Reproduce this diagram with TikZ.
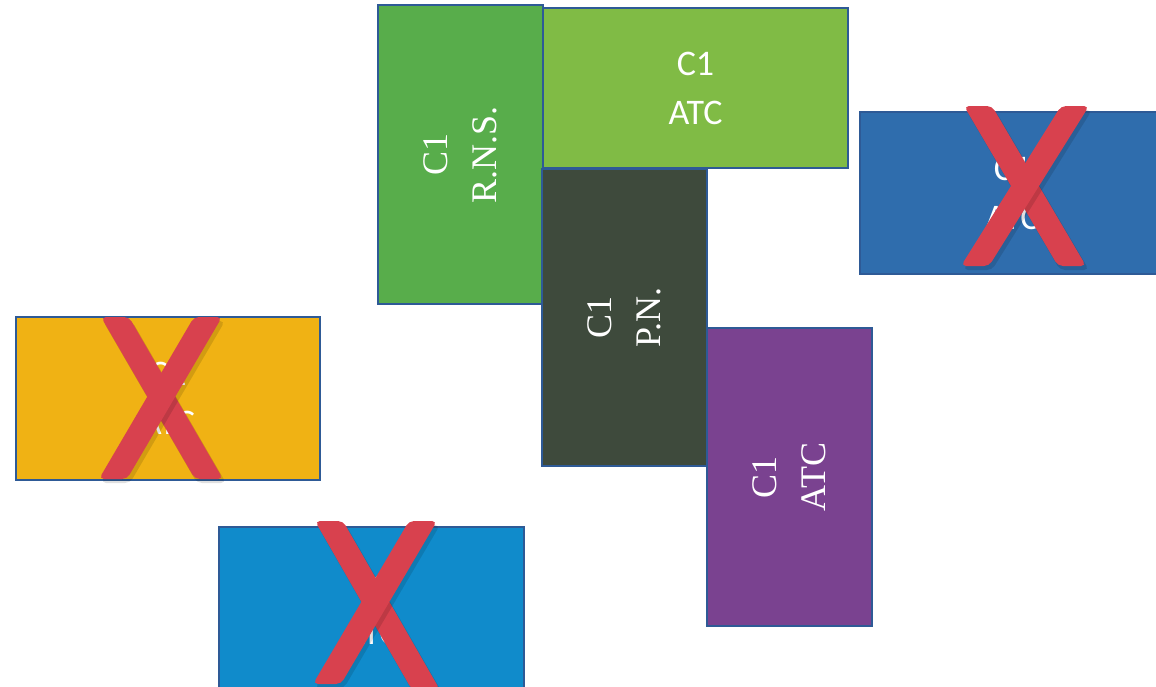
\documentclass[tikz,border=0pt]{standalone}
\usepackage{fontspec}
\setmainfont{Carlito}
\newfontfamily\rotserif{Liberation Serif}
\definecolor{edgeblue}{HTML}{2E5A96}
\definecolor{rnsgreen}{HTML}{58AD4B}
\definecolor{atcgreen}{HTML}{80BB45}
\definecolor{pndark}{HTML}{3E4A3C}
\definecolor{atcpurple}{HTML}{7A4290}
\definecolor{steelblue}{HTML}{2F6DAD}
\definecolor{ambery}{HTML}{F0B214}
\definecolor{skyblue}{HTML}{108BCB}
\definecolor{crossred}{HTML}{D8414E}
\tikzset{
  card/.style={rectangle, draw=edgeblue, line width=1.6pt, inner sep=0pt},
  hlabel/.style={text=white, align=center, inner sep=0pt, font=\fontsize{36}{49}\selectfont},
  vlabel/.style={text=white, align=center, inner sep=0pt, rotate=90, font=\rotserif\fontsize{36}{49}\selectfont},
  crossbar/.style={fill=crossred, rounded corners=5pt},
  crossshade/.style={fill=black, opacity=0.12, rounded corners=5pt}
}
% stroke from top centre (#1,#2) to bottom centre (#3,#4), horizontal half width 14
\newcommand{\crossstroke}[4]{%
  \fill[crossshade] (#1-12,#2+4) -- (#1+17,#2+4) -- (#3+17,#4+4) -- (#3-12,#4+4) -- cycle;
  \fill[crossbar] (#1-14,#2) -- (#1+14,#2) -- (#3+14,#4) -- (#3-14,#4) -- cycle;}
\begin{document}
\begin{tikzpicture}[x=1pt,y=-1pt]
\useasboundingbox (0,0) rectangle (1156,686);
\fill[white] (0,0) rectangle (1156,686);
\begin{scope}
\clip (0,0) rectangle (1156,686);
% main cards
\node[card, fill=rnsgreen, minimum width=165pt, minimum height=299pt] (rns) at (460.5,154.5) {};
\node[card, fill=atcgreen, minimum width=305pt, minimum height=160pt] (atctop) at (695.5,88) {};
\node[card, fill=pndark, minimum width=165pt, minimum height=297pt] (pn) at (624.5,317.5) {};
\node[card, fill=atcpurple, minimum width=165pt, minimum height=298pt] (atcpur) at (789.5,477) {};
\node[vlabel] (rnslbl) at (rns.center) {C1\\R.N.S.};
\node[hlabel] (atctoplbl) at (atctop.center) {C1\\ATC};
\node[vlabel] (pnlbl) at (pn.center) {C1\\P.N.};
\node[vlabel] (atcpurlbl) at (atcpur.center) {C1\\ATC};
% crossed-out cards
\node[card, fill=steelblue, minimum width=305pt, minimum height=162pt] (blueright) at (1012.5,193) {};
\node[hlabel] (bluerightlbl) at (blueright.center) {C1\\ATC};
\node[card, fill=ambery, minimum width=304pt, minimum height=163pt] (yellow) at (168,398.5) {};
\node[hlabel] (yellowlbl) at (yellow.center) {C1\\ATC};
\node[card, fill=skyblue, minimum width=305pt, minimum height=163pt] (cyan) at (371.5,608.5) {};
\node[hlabel] (cyanlbl) at (cyan.center) {C1\\ATC};
% red crosses
\crossstroke{978}{106}{1072}{266}
\crossstroke{1075}{106}{975}{266}
\crossstroke{115}{317}{209}{479}
\crossstroke{208}{317}{113}{479}
\crossstroke{329}{521}{426}{690}
\crossstroke{423}{521}{327}{684}
\end{scope}
\end{tikzpicture}
\end{document}
